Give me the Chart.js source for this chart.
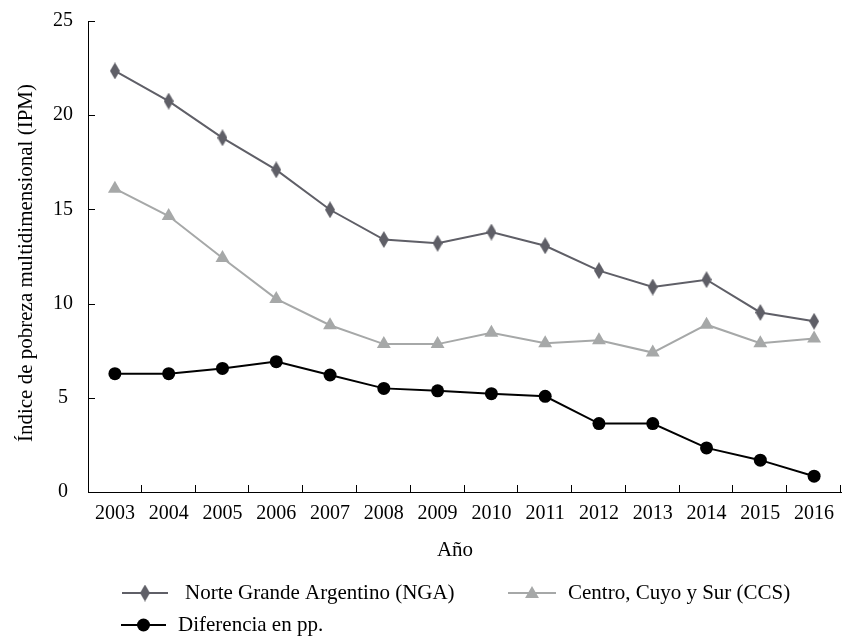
<!DOCTYPE html>
<html>
<head>
<meta charset="utf-8">
<script src="https://cdn.jsdelivr.net/npm/chart.js@4/dist/chart.umd.min.js"></script>
<style>
    body { margin:0; background:#fff; }
    #wrap { width:852px; height:641px; }
</style>
</head>
<body>
<div id="wrap"><canvas id="povertyChart" width="852" height="641"></canvas></div>
<script>
const years = ['2003', '2004', '2005', '2006', '2007', '2008', '2009', '2010', '2011', '2012', '2013', '2014', '2015', '2016'];
const ngaValues = [22.35, 20.75, 18.8, 17.1, 14.98, 13.4, 13.2, 13.8, 13.07, 11.75, 10.88, 11.27, 9.53, 9.06];
const ccsValues = [16.1, 14.65, 12.42, 10.25, 8.85, 7.85, 7.85, 8.45, 7.9, 8.05, 7.4, 8.88, 7.9, 8.15];
const diffValues = [6.28, 6.28, 6.56, 6.92, 6.21, 5.5, 5.37, 5.22, 5.08, 3.63, 3.63, 2.34, 1.69, 0.84];
const seriesNames = ['Norte Grande Argentino (NGA)', 'Centro, Cuyo y Sur (CCS)', 'Diferencia en pp.'];
const yTitle = 'Índice de pobreza multidimensional (IPM)';
const xTitle = 'Año';

const FONT = '"Liberation Serif", "Times New Roman", serif';
const NGA_COLOR = '#5f5f67';
const CCS_COLOR = '#a6a8a8';
const DIFF_COLOR = '#000000';

// tall diamond marker
function makeDiamond(w, h, color) {
    let c = document.createElement('canvas');
    c.width = w; c.height = h;
    let g = c.getContext('2d');
    g.fillStyle = color;
    g.beginPath();
    g.moveTo(w / 2, 0);
    g.lineTo(w, h / 2);
    g.lineTo(w / 2, h);
    g.lineTo(0, h / 2);
    g.closePath();
    g.fill();
    return c;
}
const diamond = makeDiamond(10, 17, NGA_COLOR);

function drawTriangle(ctx, x, y, r, color) {
    ctx.fillStyle = color;
    ctx.beginPath();
    let rad = 0;
    ctx.moveTo(x + Math.sin(rad) * r, y - Math.cos(rad) * r);
    rad += 2 * Math.PI / 3;
    ctx.lineTo(x + Math.sin(rad) * r, y - Math.cos(rad) * r);
    rad += 2 * Math.PI / 3;
    ctx.lineTo(x + Math.sin(rad) * r, y - Math.cos(rad) * r);
    ctx.closePath();
    ctx.fill();
}

const decorPlugin = {
    id: 'decor',
    afterDraw(chart) {
        const ctx = chart.ctx;
        const area = chart.chartArea;
        const xs = chart.scales.x;
        const ys = chart.scales.y;
        ctx.save();
        // inner tick marks
        ctx.strokeStyle = '#000';
        ctx.lineWidth = 1;
        ctx.beginPath();
        ys.ticks.forEach(function(t, i) {
            let py = Math.round(ys.getPixelForTick(i)) + 0.5;
            ctx.moveTo(area.left, py);
            ctx.lineTo(area.left + 7, py);
        });
        let step = xs.getPixelForValue(1) - xs.getPixelForValue(0);
        for (let i = 1; i <= years.length; i++) {
            let px = Math.round(xs.getPixelForValue(0) - step / 2 + i * step) - 0.5;
            ctx.moveTo(px, area.bottom);
            ctx.lineTo(px, area.bottom - 7);
        }
        ctx.stroke();

        // axis titles
        ctx.fillStyle = '#000';
        ctx.font = '21px ' + FONT;
        ctx.textAlign = 'center';
        ctx.textBaseline = 'middle';
        ctx.fillText(xTitle, 455, 550);
        ctx.save();
        ctx.translate(26, 263);
        ctx.rotate(-Math.PI / 2);
        ctx.fillText(yTitle, 0, 0);
        ctx.restore();

        // legend
        const items = [
            { x1: 122, x2: 168, y: 593, color: NGA_COLOR, mark: 'diamond', tx: 185, text: seriesNames[0] },
            { x1: 508, x2: 556, y: 593, color: CCS_COLOR, mark: 'triangle', tx: 568, text: seriesNames[1] },
            { x1: 121, x2: 166, y: 625, color: DIFF_COLOR, mark: 'circle', tx: 178, text: seriesNames[2] }
        ];
        ctx.textAlign = 'left';
        items.forEach(function(it) {
            ctx.strokeStyle = it.color;
            ctx.lineWidth = 2;
            ctx.beginPath();
            ctx.moveTo(it.x1, it.y);
            ctx.lineTo(it.x2, it.y);
            ctx.stroke();
            let cx = (it.x1 + it.x2) / 2;
            if (it.mark == 'diamond') {
                ctx.drawImage(diamond, cx - 5, it.y - 8.5);
            } else if (it.mark == 'triangle') {
                drawTriangle(ctx, cx, it.y + 1, 8, it.color);
            } else {
                ctx.fillStyle = it.color;
                ctx.beginPath();
                ctx.arc(cx, it.y, 6.5, 0, Math.PI * 2);
                ctx.fill();
            }
            ctx.fillStyle = '#000';
            ctx.fillText(it.text, it.tx, it.y);
        });
        ctx.restore();
    }
};

new Chart(document.getElementById('povertyChart'), {
    type: 'line',
    plugins: [decorPlugin],
    data: {
        labels: years,
        datasets: [{
            label: seriesNames[0],
            data: ngaValues,
            borderColor: NGA_COLOR,
            backgroundColor: NGA_COLOR,
            borderWidth: 2,
            pointStyle: diamond,
            pointRadius: 9,
            pointHoverRadius: 9
        }, {
            label: seriesNames[1],
            data: ccsValues,
            borderColor: CCS_COLOR,
            backgroundColor: CCS_COLOR,
            borderWidth: 2,
            pointStyle: 'triangle',
            pointRadius: 8,
            pointBorderWidth: 0,
            pointHoverRadius: 8
        }, {
            label: seriesNames[2],
            data: diffValues,
            borderColor: DIFF_COLOR,
            backgroundColor: DIFF_COLOR,
            borderWidth: 2,
            pointStyle: 'circle',
            pointRadius: 6.5,
            pointBorderWidth: 0,
            pointHoverRadius: 6.5
        }]
    },
    options: {
        responsive: false,
        animation: false,
        layout: { padding: { left: 0, right: 0, top: 21, bottom: 0 } },
        plugins: {
            legend: { display: false },
            tooltip: { enabled: false }
        },
        scales: {
            x: {
                offset: true,
                grid: { display: true, drawOnChartArea: false, drawTicks: false, offset: true },
                border: { display: true, color: '#000', width: 1 },
                ticks: { color: '#000', padding: 10, maxRotation: 0, font: { family: FONT, size: 20 } },
                afterFit: function(scale) {
                    scale.height = 149;
                    scale.paddingLeft = 0;
                    scale.paddingRight = 0;
                }
            },
            y: {
                min: 0,
                max: 25,
                grid: { display: true, drawOnChartArea: false, drawTicks: false },
                border: { display: true, color: '#000', width: 1 },
                ticks: { stepSize: 5, color: '#000', padding: 15, crossAlign: 'center', font: { family: FONT, size: 20 } },
                afterFit: function(scale) {
                    scale.width = 88;
                    scale.paddingTop = 0;
                    scale.paddingBottom = 0;
                }
            }
        }
    }
});
</script>
</body>
</html>
